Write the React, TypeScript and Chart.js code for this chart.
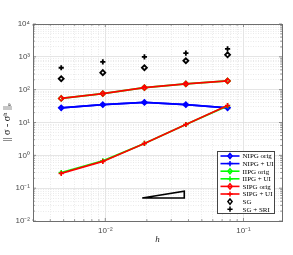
import React, { useEffect, useRef } from 'react';
import { Chart, registerables } from 'chart.js';
Chart.register(...registerables);

const hValues = [0.0048, 0.0096, 0.0192, 0.0383, 0.0767];
const nipgOrig = [28, 35, 41, 35, 28];
const nipgUI = [28, 35, 41, 35, 28];
const iipgOrig = [54, 76, 115, 150, 185];
const iipgUI = [0.3, 0.68, 2.3, 8.7, 32];
const sipgOrig = [54, 76, 115, 150, 185];
const sipgUI = [0.28, 0.65, 2.3, 8.7, 33];
const sgVals = [215, 330, 465, 760, 1150];
const sgSriVals = [465, 700, 1000, 1300, 1750];
const triX = [0.0185, 0.0373, 0.0373, 0.0185];
const triY = [0.05, 0.081, 0.05, 0.05];

const xMin = 0.003;
const xMax = 0.19;
const yMin = 0.01;
const yMax = 10000;

const legendItems = [
  { label: 'NIPG orig', color: '#0000ff', marker: 'diamond', line: true },
  { label: 'NIPG + UI', color: '#0000ff', marker: 'plus', line: true },
  { label: 'IIPG orig', color: '#00ff00', marker: 'diamond', line: true },
  { label: 'IIPG + UI', color: '#00ff00', marker: 'plus', line: true },
  { label: 'SIPG orig', color: '#ff0000', marker: 'diamond', line: true },
  { label: 'SIPG + UI', color: '#ff0000', marker: 'plus', line: true },
  { label: 'SG', color: '#000000', marker: 'diamond', line: false },
  { label: 'SG + SRI', color: '#000000', marker: 'plus', line: false },
];

const sup: Record<string, string> = { '-': '⁻', '0': '⁰', '1': '¹', '2': '²', '3': '³', '4': '⁴', '5': '⁵' };

function isPow10(v: number) {
  const l = Math.log10(v);
  return Math.abs(l - Math.round(l)) < 1e-9;
}
function logTicks(min: number, max: number) {
  const out: number[] = [];
  for (let e = Math.floor(Math.log10(min)); e <= Math.ceil(Math.log10(max)); e++) {
    for (let m = 1; m <= 9; m++) {
      const v = parseFloat((m * Math.pow(10, e)).toPrecision(6));
      if (v >= min * 0.9999 && v <= max * 1.0001) out.push(v);
    }
  }
  return out;
}
function label10(v: number) {
  if (!isPow10(v)) return '';
  const e = String(Math.round(Math.log10(v)));
  return '10' + e.split('').map((c) => sup[c]).join('');
}

const pts = (ys: number[]) => hValues.map((x, i) => ({ x, y: ys[i] }));

function drawMarker(ctx: CanvasRenderingContext2D, kind: string, x: number, y: number, r: number) {
  ctx.beginPath();
  if (kind === 'diamond') {
    ctx.moveTo(x, y - r);
    ctx.lineTo(x + r * 0.8, y);
    ctx.lineTo(x, y + r);
    ctx.lineTo(x - r * 0.8, y);
    ctx.closePath();
  } else {
    ctx.moveTo(x - r, y);
    ctx.lineTo(x + r, y);
    ctx.moveTo(x, y - r);
    ctx.lineTo(x, y + r);
  }
  ctx.stroke();
}

const framePlugin = {
  id: 'frame',
  beforeDatasetsDraw(chart: any) {
    const { ctx, chartArea: a, scales } = chart;
    ctx.save();
    ctx.strokeStyle = '#666';
    ctx.lineWidth = 0.7;
    const xs = scales.x, ys = scales.y;
    for (const t of xs.ticks) {
      const px = xs.getPixelForValue(t.value);
      const len = isPow10(t.value) ? 3 : 1.8;
      ctx.beginPath();
      ctx.moveTo(px, a.bottom); ctx.lineTo(px, a.bottom - len);
      ctx.moveTo(px, a.top); ctx.lineTo(px, a.top + len);
      ctx.stroke();
    }
    for (const t of ys.ticks) {
      const py = ys.getPixelForValue(t.value);
      const len = isPow10(t.value) ? 3 : 1.8;
      ctx.beginPath();
      ctx.moveTo(a.left, py); ctx.lineTo(a.left + len, py);
      ctx.moveTo(a.right, py); ctx.lineTo(a.right - len, py);
      ctx.stroke();
    }
    ctx.restore();
  },
  afterDraw(chart: any) {
    const { ctx, chartArea: a } = chart;
    ctx.save();
    ctx.strokeStyle = '#6e6e6e';
    ctx.lineWidth = 1;
    ctx.strokeRect(Math.round(a.left) + 0.5, Math.round(a.top) + 0.5, Math.round(a.right - a.left), Math.round(a.bottom - a.top));
    // legend
    const w = 57, h = 62;
    const x0 = Math.round(a.right - 8 - w) + 0.5;
    const y0 = Math.round(a.bottom - 8 - h) + 0.5;
    ctx.fillStyle = '#ffffff';
    ctx.fillRect(x0, y0, w, h);
    ctx.strokeStyle = '#444';
    ctx.lineWidth = 1;
    ctx.strokeRect(x0, y0, w, h);
    ctx.font = '7px "Liberation Serif", serif';
    ctx.textBaseline = 'middle';
    ctx.textAlign = 'left';
    legendItems.forEach((it, i) => {
      const yy = y0 + 4.5 + i * 7.6;
      ctx.strokeStyle = it.color;
      ctx.lineWidth = 1.6;
      if (it.line) {
        ctx.beginPath();
        ctx.moveTo(x0 + 3, yy);
        ctx.lineTo(x0 + 22, yy);
        ctx.stroke();
      }
      ctx.lineWidth = 1.5;
      drawMarker(ctx, it.marker, x0 + 12.5, yy, 2.6);
      ctx.fillStyle = '#000';
      ctx.fillText(it.label, x0 + 25, yy + 0.5);
    });
    ctx.restore();
  },
};

const lineDs = (label: string, data: number[], color: string, marker: string) => ({
  label,
  data: pts(data),
  borderColor: color,
  backgroundColor: 'rgba(0,0,0,0)',
  borderWidth: 1.8,
  pointStyle: marker === 'diamond' ? 'rectRot' : 'cross',
  pointRadius: marker === 'diamond' ? 2.5 : 2.6,
  pointBorderWidth: 1.6,
  pointBorderColor: color,
  pointBackgroundColor: 'rgba(0,0,0,0)',
  showLine: true,
  tension: 0,
});

export default function App() {
  const ref = useRef<HTMLCanvasElement>(null);
  useEffect(() => {
    document.body.style.margin = '0';
    const canvas = ref.current!;
    const datasets: any[] = [
      {
        label: 'slope',
        data: triX.map((x, i) => ({ x, y: triY[i] })),
        borderColor: '#000',
        borderWidth: 1.6,
        pointRadius: 0,
        showLine: true,
        fill: false,
      },
      { ...lineDs('SG + SRI', sgSriVals, '#000', 'plus'), showLine: false, pointBorderWidth: 1.8 },
      { ...lineDs('SG', sgVals, '#000', 'diamond'), showLine: false, pointBorderWidth: 1.8 },
      lineDs('SIPG + UI', sipgUI, '#ff0000', 'plus'),
      lineDs('SIPG orig', sipgOrig, '#ff0000', 'diamond'),
      lineDs('IIPG + UI', iipgUI, '#00ff00', 'plus'),
      lineDs('IIPG orig', iipgOrig, '#00ff00', 'diamond'),
      lineDs('NIPG + UI', nipgUI, '#0000ff', 'plus'),
      lineDs('NIPG orig', nipgOrig, '#0000ff', 'diamond'),
    ];
    const gridOpts = {
      color: (c: any) => (c.tick && isPow10(c.tick.value) ? '#dedede' : '#e4e4e4'),
      lineWidth: 0.8,
      drawTicks: false,
    };
    const chart = new Chart(canvas, {
      type: 'scatter',
      data: { datasets },
      options: {
        animation: false,
        responsive: false,
        maintainAspectRatio: false,
        layout: { padding: { left: 0, top: 24, right: 11, bottom: 0 } },
        plugins: { legend: { display: false }, tooltip: { enabled: false } },
        scales: {
          x: {
            type: 'logarithmic',
            min: xMin,
            max: xMax,
            afterBuildTicks: (s: any) => { s.ticks = logTicks(xMin, xMax).map((v) => ({ value: v })); },
            afterFit: (s: any) => { s.height = 34; },
            grid: gridOpts,
            border: { display: false, dash: (c: any) => (c.tick && isPow10(c.tick.value) ? [] : [1, 1.5]) },
            ticks: {
              autoSkip: false,
              maxRotation: 0,
              padding: 5,
              color: '#4a4a4a',
              font: { family: '"Liberation Sans", Arial, sans-serif', size: 8 },
              callback: (v: any) => label10(Number(v)),
            },
            title: {
              display: true,
              text: 'h',
              color: '#222',
              font: { family: '"Liberation Serif", serif', size: 9, style: 'italic' },
              padding: { top: 0, bottom: 10 },
            },
          },
          y: {
            type: 'logarithmic',
            min: yMin,
            max: yMax,
            afterBuildTicks: (s: any) => { s.ticks = logTicks(yMin, yMax).map((v) => ({ value: v })); },
            afterFit: (s: any) => { s.width = 33; },
            grid: gridOpts,
            border: { display: false, dash: (c: any) => (c.tick && isPow10(c.tick.value) ? [] : [1, 1.5]) },
            ticks: {
              autoSkip: false,
              padding: 3,
              color: '#4a4a4a',
              font: { family: '"Liberation Sans", Arial, sans-serif', size: 8 },
              callback: (v: any) => label10(Number(v)),
            },
            title: {
              display: true,
              text: '|| σ - σʰ ||ₑ',
              color: '#222',
              font: { family: '"Liberation Serif", serif', size: 10 },
              padding: { top: 1, bottom: 0 },
            },
          },
        },
      },
      plugins: [framePlugin],
    } as any);
    return () => chart.destroy();
  }, []);
  return (
    <div style={{ width: 293, height: 255, background: '#fff' }}>
      <canvas ref={ref} width={293} height={255} />
    </div>
  );
}
